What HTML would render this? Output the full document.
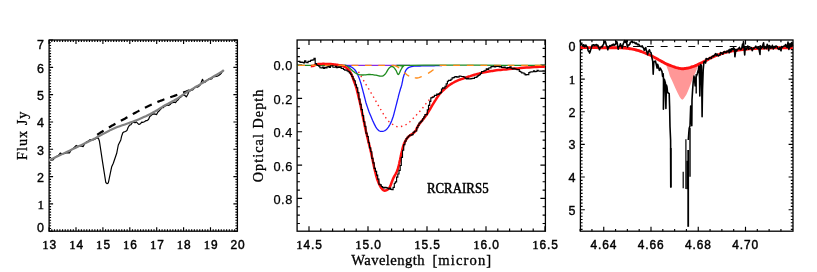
<!DOCTYPE html>
<html><head><meta charset="utf-8"><title>Spectra</title>
<style>
html,body{margin:0;padding:0;background:#fff;}
body{width:817px;height:272px;overflow:hidden;}
svg{display:block;}
text{fill:#000;}
svg{will-change:transform;transform:translateZ(0);}
.tl{font-family:"Liberation Sans",sans-serif;font-size:11.9px;stroke:#000;stroke-width:0.12px;letter-spacing:0.9px;}
.tl.b{stroke-width:0.45px;}
.tl.y{font-size:12.5px;stroke-width:0.36px;}
.tl.y .one{font-size:13.1px;}
.tl.m{font-size:12.8px;letter-spacing:0.55px;stroke-width:0.25px;}
.tl.m .one{font-size:14.4px;}
.one{font-family:"Liberation Serif",serif;font-size:12.8px;}
.sel{font-family:"Liberation Serif",serif;font-size:13.7px;stroke:#000;stroke-width:0.3px;}
.rc{font-family:"Liberation Serif",serif;font-size:13.8px;stroke:#000;stroke-width:0.5px;}
</style></head><body>
<svg width="817" height="272" viewBox="0 0 817 272">
<rect width="817" height="272" fill="#fff"/>
<rect x="49.1" y="40" width="188.3" height="191.2" fill="none" stroke="#000" stroke-width="1.3"/>
<path d="M49.10,231.2v-4M49.10,40v4M76.00,231.2v-4M76.00,40v4M102.90,231.2v-4M102.90,40v4M129.80,231.2v-4M129.80,40v4M156.70,231.2v-4M156.70,40v4M183.60,231.2v-4M183.60,40v4M210.50,231.2v-4M210.50,40v4M237.40,231.2v-4M237.40,40v4M51.79,231.2v-2M51.79,40v2M54.48,231.2v-2M54.48,40v2M57.17,231.2v-2M57.17,40v2M59.86,231.2v-2M59.86,40v2M62.55,231.2v-2M62.55,40v2M65.24,231.2v-2M65.24,40v2M67.93,231.2v-2M67.93,40v2M70.62,231.2v-2M70.62,40v2M73.31,231.2v-2M73.31,40v2M78.69,231.2v-2M78.69,40v2M81.38,231.2v-2M81.38,40v2M84.07,231.2v-2M84.07,40v2M86.76,231.2v-2M86.76,40v2M89.45,231.2v-2M89.45,40v2M92.14,231.2v-2M92.14,40v2M94.83,231.2v-2M94.83,40v2M97.52,231.2v-2M97.52,40v2M100.21,231.2v-2M100.21,40v2M105.59,231.2v-2M105.59,40v2M108.28,231.2v-2M108.28,40v2M110.97,231.2v-2M110.97,40v2M113.66,231.2v-2M113.66,40v2M116.35,231.2v-2M116.35,40v2M119.04,231.2v-2M119.04,40v2M121.73,231.2v-2M121.73,40v2M124.42,231.2v-2M124.42,40v2M127.11,231.2v-2M127.11,40v2M132.49,231.2v-2M132.49,40v2M135.18,231.2v-2M135.18,40v2M137.87,231.2v-2M137.87,40v2M140.56,231.2v-2M140.56,40v2M143.25,231.2v-2M143.25,40v2M145.94,231.2v-2M145.94,40v2M148.63,231.2v-2M148.63,40v2M151.32,231.2v-2M151.32,40v2M154.01,231.2v-2M154.01,40v2M159.39,231.2v-2M159.39,40v2M162.08,231.2v-2M162.08,40v2M164.77,231.2v-2M164.77,40v2M167.46,231.2v-2M167.46,40v2M170.15,231.2v-2M170.15,40v2M172.84,231.2v-2M172.84,40v2M175.53,231.2v-2M175.53,40v2M178.22,231.2v-2M178.22,40v2M180.91,231.2v-2M180.91,40v2M186.29,231.2v-2M186.29,40v2M188.98,231.2v-2M188.98,40v2M191.67,231.2v-2M191.67,40v2M194.36,231.2v-2M194.36,40v2M197.05,231.2v-2M197.05,40v2M199.74,231.2v-2M199.74,40v2M202.43,231.2v-2M202.43,40v2M205.12,231.2v-2M205.12,40v2M207.81,231.2v-2M207.81,40v2M213.19,231.2v-2M213.19,40v2M215.88,231.2v-2M215.88,40v2M218.57,231.2v-2M218.57,40v2M221.26,231.2v-2M221.26,40v2M223.95,231.2v-2M223.95,40v2M226.64,231.2v-2M226.64,40v2M229.33,231.2v-2M229.33,40v2M232.02,231.2v-2M232.02,40v2M234.71,231.2v-2M234.71,40v2M49.1,231.20h4M237.4,231.20h-4M49.1,203.89h4M237.4,203.89h-4M49.1,176.58h4M237.4,176.58h-4M49.1,149.27h4M237.4,149.27h-4M49.1,121.96h4M237.4,121.96h-4M49.1,94.65h4M237.4,94.65h-4M49.1,67.34h4M237.4,67.34h-4M49.1,40.03h4M237.4,40.03h-4M49.1,228.47h2M237.4,228.47h-2M49.1,225.74h2M237.4,225.74h-2M49.1,223.01h2M237.4,223.01h-2M49.1,220.28h2M237.4,220.28h-2M49.1,217.54h2M237.4,217.54h-2M49.1,214.81h2M237.4,214.81h-2M49.1,212.08h2M237.4,212.08h-2M49.1,209.35h2M237.4,209.35h-2M49.1,206.62h2M237.4,206.62h-2M49.1,201.16h2M237.4,201.16h-2M49.1,198.43h2M237.4,198.43h-2M49.1,195.70h2M237.4,195.70h-2M49.1,192.97h2M237.4,192.97h-2M49.1,190.23h2M237.4,190.23h-2M49.1,187.50h2M237.4,187.50h-2M49.1,184.77h2M237.4,184.77h-2M49.1,182.04h2M237.4,182.04h-2M49.1,179.31h2M237.4,179.31h-2M49.1,173.85h2M237.4,173.85h-2M49.1,171.12h2M237.4,171.12h-2M49.1,168.39h2M237.4,168.39h-2M49.1,165.66h2M237.4,165.66h-2M49.1,162.93h2M237.4,162.93h-2M49.1,160.19h2M237.4,160.19h-2M49.1,157.46h2M237.4,157.46h-2M49.1,154.73h2M237.4,154.73h-2M49.1,152.00h2M237.4,152.00h-2M49.1,146.54h2M237.4,146.54h-2M49.1,143.81h2M237.4,143.81h-2M49.1,141.08h2M237.4,141.08h-2M49.1,138.35h2M237.4,138.35h-2M49.1,135.62h2M237.4,135.62h-2M49.1,132.88h2M237.4,132.88h-2M49.1,130.15h2M237.4,130.15h-2M49.1,127.42h2M237.4,127.42h-2M49.1,124.69h2M237.4,124.69h-2M49.1,119.23h2M237.4,119.23h-2M49.1,116.50h2M237.4,116.50h-2M49.1,113.77h2M237.4,113.77h-2M49.1,111.04h2M237.4,111.04h-2M49.1,108.30h2M237.4,108.30h-2M49.1,105.57h2M237.4,105.57h-2M49.1,102.84h2M237.4,102.84h-2M49.1,100.11h2M237.4,100.11h-2M49.1,97.38h2M237.4,97.38h-2M49.1,91.92h2M237.4,91.92h-2M49.1,89.19h2M237.4,89.19h-2M49.1,86.46h2M237.4,86.46h-2M49.1,83.73h2M237.4,83.73h-2M49.1,81.00h2M237.4,81.00h-2M49.1,78.26h2M237.4,78.26h-2M49.1,75.53h2M237.4,75.53h-2M49.1,72.80h2M237.4,72.80h-2M49.1,70.07h2M237.4,70.07h-2M49.1,64.61h2M237.4,64.61h-2M49.1,61.88h2M237.4,61.88h-2M49.1,59.15h2M237.4,59.15h-2M49.1,56.42h2M237.4,56.42h-2M49.1,53.69h2M237.4,53.69h-2M49.1,50.95h2M237.4,50.95h-2M49.1,48.22h2M237.4,48.22h-2M49.1,45.49h2M237.4,45.49h-2M49.1,42.76h2M237.4,42.76h-2" stroke="#000" stroke-width="1.15" fill="none"/>
<path d="M49.3,160.6 L51.0,160.2 L53.0,159.8 L54.5,158.0 L56.0,156.7 L58.5,155.3 L60.4,153.0 L62.0,153.9 L64.0,153.7 L66.0,152.9 L68.0,152.6 L69.5,153.0 L71.0,150.3 L73.0,148.6 L75.0,146.8 L76.2,145.4 L78.0,146.4 L80.0,146.1 L82.0,146.1 L83.2,146.6 L84.5,143.9 L86.0,142.3 L87.5,141.4 L89.0,140.5 L90.3,139.5 L91.5,139.7 L93.0,139.8 L94.5,139.5 L96.5,138.1 L98.3,138.0 L99.4,141.0 L102.5,161.7 L105.8,182.5 L107.0,183.6 L108.3,183.0 L111.7,166.7 L113.3,163.3 L116.7,153.3 L118.3,145.0 L120.8,140.0 L121.5,136.6 L122.8,132.7 L124.2,131.8 L125.5,131.5 L126.9,130.6 L128.2,127.3 L129.6,125.1 L130.9,124.7 L132.3,122.7 L133.6,122.1 L135.0,122.8 L136.3,121.9 L137.7,123.4 L139.0,124.5 L140.4,123.8 L141.7,122.2 L143.1,122.3 L144.4,121.7 L145.8,120.7 L147.1,120.6 L148.5,119.6 L149.8,116.4 L151.2,115.4 L152.5,114.2 L153.9,113.9 L155.2,114.2 L156.6,114.6 L157.9,112.0 L159.3,110.7 L160.6,109.3 L162.0,107.7 L163.3,107.6 L164.7,106.1 L166.0,105.6 L167.4,105.0 L168.7,105.4 L170.1,104.6 L171.4,102.9 L172.8,102.6 L174.1,102.2 L175.5,102.6 L176.8,100.9 L178.2,99.7 L179.5,97.9 L180.9,97.1 L182.2,95.6 L183.6,94.9 L184.9,95.5 L186.3,96.9 L187.6,94.7 L189.0,91.6 L190.3,90.8 L191.7,90.2 L193.0,89.6 L194.4,88.2 L195.7,86.7 L197.1,87.2 L198.4,86.6 L199.8,85.6 L201.1,82.8 L202.5,79.3 L203.8,82.5 L205.2,82.2 L206.5,80.9 L207.9,79.8 L209.2,78.8 L210.6,79.3 L211.9,78.8 L213.3,76.5 L214.6,76.7 L216.0,76.4 L217.3,76.2 L218.7,75.5 L220.0,74.6 L221.4,73.1 L222.7,70.4 L223.5,70.4" stroke="#000" stroke-width="1.2" fill="none" stroke-linejoin="round"/>
<path d="M97.3,134.7 L97.4,134.6 L97.5,134.6 L97.6,134.5 L97.8,134.4 L98.0,134.3 L98.4,134.0 L98.9,133.7 L99.7,133.2 L100.7,132.5 L102.0,131.7 L103.5,130.8 L105.1,129.8 L106.8,128.8 L108.5,127.7 L110.2,126.7 L111.7,125.8 L113.2,125.0 L114.6,124.2 L116.1,123.4 L117.5,122.6 L118.9,121.9 L120.4,121.1 L121.8,120.3 L123.3,119.5 L124.8,118.7 L126.3,117.8 L127.8,117.0 L129.3,116.1 L130.8,115.2 L132.4,114.4 L133.9,113.5 L135.4,112.7 L136.9,111.9 L138.4,111.1 L139.9,110.3 L141.4,109.5 L142.9,108.7 L144.4,108.0 L146.0,107.2 L147.5,106.5 L149.0,105.8 L150.6,105.1 L152.1,104.4 L153.7,103.7 L155.2,103.0 L156.8,102.3 L158.4,101.6 L160.0,101.0 L161.6,100.4 L163.3,99.7 L165.0,99.1 L166.7,98.5 L168.3,97.9 L170.0,97.4 L171.7,96.8 L173.3,96.2 L175.0,95.6 L176.7,95.0 L178.4,94.4 L180.2,93.7 L181.8,93.1 L183.3,92.6 L184.7,92.1 L185.8,91.7 L186.7,91.4 L187.4,91.1 L188.0,90.9 L188.4,90.7 L188.8,90.6 L189.0,90.5 L189.3,90.4 L189.5,90.3" stroke="#000" stroke-width="2.2" fill="none" stroke-dasharray="7.5 6.2"/>
<path d="M49.2,160.3 L50.8,159.5 L52.9,158.5 L55.4,157.3 L58.2,156.0 L61.2,154.6 L64.2,153.1 L67.2,151.7 L70.0,150.4 L72.8,149.1 L75.7,147.7 L78.7,146.3 L81.6,144.9 L84.5,143.5 L87.2,142.2 L89.6,141.0 L91.7,140.0 L93.3,139.2 L94.6,138.6 L95.5,138.1 L96.3,137.6 L97.0,137.2 L97.8,136.8 L98.7,136.3 L100.0,135.6 L101.5,134.8 L103.2,133.9 L104.9,133.0 L106.8,132.0 L108.7,131.0 L110.7,129.9 L112.8,129.0 L115.0,128.0 L117.3,127.1 L119.7,126.2 L122.3,125.3 L124.9,124.4 L127.5,123.5 L130.1,122.6 L132.6,121.7 L135.0,120.8 L137.3,119.9 L139.5,119.0 L141.7,118.0 L143.8,117.1 L145.8,116.2 L147.8,115.2 L149.8,114.3 L151.7,113.3 L153.5,112.3 L155.3,111.3 L157.0,110.3 L158.7,109.2 L160.3,108.2 L161.9,107.2 L163.4,106.2 L165.0,105.3 L166.6,104.4 L168.1,103.6 L169.7,102.8 L171.2,102.0 L172.6,101.2 L174.1,100.5 L175.4,99.7 L176.7,99.0 L177.8,98.3 L178.8,97.7 L179.6,97.0 L180.4,96.4 L181.3,95.8 L182.3,95.1 L183.5,94.3 L185.0,93.3 L186.8,92.2 L188.8,91.0 L191.1,89.7 L193.4,88.3 L195.9,86.8 L198.4,85.4 L200.9,83.9 L203.3,82.5 L205.9,81.0 L208.6,79.4 L211.6,77.7 L214.4,76.0 L217.2,74.4 L219.7,72.9 L221.7,71.7 L223.3,70.8" stroke="#808080" stroke-width="2.15" fill="none" stroke-linecap="round"/>
<text x="44.9" y="231.6" class="tl b y" text-anchor="end">0</text>
<text x="44.9" y="209.1" class="tl b y" text-anchor="end"><tspan class="one">1</tspan></text>
<text x="44.9" y="181.8" class="tl b y" text-anchor="end">2</text>
<text x="44.9" y="154.5" class="tl b y" text-anchor="end">3</text>
<text x="44.9" y="127.2" class="tl b y" text-anchor="end">4</text>
<text x="44.9" y="99.9" class="tl b y" text-anchor="end">5</text>
<text x="44.9" y="72.5" class="tl b y" text-anchor="end">6</text>
<text x="44.9" y="49.3" class="tl b y" text-anchor="end">7</text>
<text x="49.7" y="249.1" class="tl b" text-anchor="middle"><tspan class="one">1</tspan>3</text>
<text x="76.6" y="249.1" class="tl b" text-anchor="middle"><tspan class="one">1</tspan>4</text>
<text x="103.5" y="249.1" class="tl b" text-anchor="middle"><tspan class="one">1</tspan>5</text>
<text x="130.4" y="249.1" class="tl b" text-anchor="middle"><tspan class="one">1</tspan>6</text>
<text x="157.3" y="249.1" class="tl b" text-anchor="middle"><tspan class="one">1</tspan>7</text>
<text x="184.2" y="249.1" class="tl b" text-anchor="middle"><tspan class="one">1</tspan>8</text>
<text x="211.1" y="249.1" class="tl b" text-anchor="middle"><tspan class="one">1</tspan>9</text>
<text x="238.0" y="249.1" class="tl b" text-anchor="middle">20</text>
<text transform="translate(26.5,160) rotate(-90) scale(1.04,1)" class="sel" textLength="46.6" lengthAdjust="spacing">Flux Jy</text>
<rect x="297.1" y="40" width="248.29999999999995" height="191.2" fill="none" stroke="#000" stroke-width="1.3"/>
<path d="M309.00,231.2v-5M309.00,40v5M368.00,231.2v-5M368.00,40v5M427.00,231.2v-5M427.00,40v5M486.00,231.2v-5M486.00,40v5M545.00,231.2v-5M545.00,40v5M320.80,231.2v-2.8M320.80,40v2.8M332.60,231.2v-2.8M332.60,40v2.8M344.40,231.2v-2.8M344.40,40v2.8M356.20,231.2v-2.8M356.20,40v2.8M379.80,231.2v-2.8M379.80,40v2.8M391.60,231.2v-2.8M391.60,40v2.8M403.40,231.2v-2.8M403.40,40v2.8M415.20,231.2v-2.8M415.20,40v2.8M438.80,231.2v-2.8M438.80,40v2.8M450.60,231.2v-2.8M450.60,40v2.8M462.40,231.2v-2.8M462.40,40v2.8M474.20,231.2v-2.8M474.20,40v2.8M497.80,231.2v-2.8M497.80,40v2.8M509.60,231.2v-2.8M509.60,40v2.8M521.40,231.2v-2.8M521.40,40v2.8M533.20,231.2v-2.8M533.20,40v2.8M297.1,65.00h5M545.4,65.00h-5M297.1,98.36h5M545.4,98.36h-5M297.1,131.72h5M545.4,131.72h-5M297.1,165.08h5M545.4,165.08h-5M297.1,198.44h5M545.4,198.44h-5M297.1,48.32h2.8M545.4,48.32h-2.8M297.1,56.66h2.8M545.4,56.66h-2.8M297.1,73.34h2.8M545.4,73.34h-2.8M297.1,81.68h2.8M545.4,81.68h-2.8M297.1,90.02h2.8M545.4,90.02h-2.8M297.1,106.70h2.8M545.4,106.70h-2.8M297.1,115.04h2.8M545.4,115.04h-2.8M297.1,123.38h2.8M545.4,123.38h-2.8M297.1,140.06h2.8M545.4,140.06h-2.8M297.1,148.40h2.8M545.4,148.40h-2.8M297.1,156.74h2.8M545.4,156.74h-2.8M297.1,173.42h2.8M545.4,173.42h-2.8M297.1,181.76h2.8M545.4,181.76h-2.8M297.1,190.10h2.8M545.4,190.10h-2.8M297.1,206.78h2.8M545.4,206.78h-2.8M297.1,215.12h2.8M545.4,215.12h-2.8M297.1,223.46h2.8M545.4,223.46h-2.8" stroke="#000" stroke-width="1.15" fill="none"/>
<path d="M338,65.3H410" stroke="#8a2be2" stroke-width="1.25"/>
<path d="M344.0,65.3 L344.7,65.4 L345.6,65.5 L346.7,65.6 L347.9,65.8 L349.0,66.1 L350.0,66.4 L350.9,66.8 L351.8,67.2 L352.6,67.8 L353.4,68.4 L354.2,69.1 L355.0,70.0 L355.8,71.1 L356.5,72.3 L357.2,73.7 L357.9,75.2 L358.6,76.7 L359.2,78.3 L359.8,79.9 L360.3,81.6 L360.9,83.3 L361.4,85.1 L361.9,87.1 L362.5,89.2 L363.1,91.6 L363.8,94.2 L364.5,97.0 L365.2,99.7 L365.9,102.5 L366.7,105.0 L367.5,107.4 L368.3,109.7 L369.1,112.0 L370.0,114.2 L370.9,116.3 L371.7,118.3 L372.5,120.2 L373.4,122.1 L374.2,123.9 L375.1,125.6 L375.9,127.1 L376.7,128.3 L377.5,129.3 L378.2,130.0 L378.9,130.6 L379.6,131.0 L380.4,131.3 L381.2,131.4 L382.1,131.4 L383.0,131.3 L383.9,131.0 L384.9,130.6 L385.8,130.0 L386.7,129.2 L387.6,128.2 L388.4,127.1 L389.3,125.7 L390.1,124.3 L390.9,122.6 L391.7,120.8 L392.4,118.8 L393.2,116.5 L393.9,114.1 L394.5,111.6 L395.2,109.1 L395.8,106.7 L396.4,104.4 L397.0,102.0 L397.6,99.6 L398.2,97.4 L398.7,95.2 L399.2,93.3 L399.7,91.6 L400.1,90.2 L400.5,88.8 L401.0,87.6 L401.3,86.3 L401.7,85.0 L402.0,83.6 L402.3,82.2 L402.6,80.8 L402.8,79.4 L403.1,78.0 L403.5,76.7 L403.9,75.3 L404.4,74.0 L404.9,72.6 L405.4,71.3 L406.0,70.2 L406.7,69.2 L407.4,68.4 L408.1,67.9 L408.9,67.4 L409.7,67.1 L410.7,66.8 L411.7,66.5 L412.8,66.3 L414.1,66.2 L415.4,66.1 L416.8,66.1 L418.4,66.0 L420.0,66.0 L421.8,65.9 L423.8,65.9 L425.9,65.9 L428.0,65.9 L430.1,65.8 L432.0,65.8 L433.9,65.8 L435.9,65.7 L437.8,65.7 L439.5,65.7 L440.9,65.6 L442.0,65.6" stroke="#1a1aff" stroke-width="1.3" fill="none"/>
<path d="M297.5,65.3 L302.5,65.3 L309.9,65.3 L318.3,65.3 L326.9,65.3 L334.5,65.3 L340.0,65.3 L343.2,65.3 L344.9,65.3 L345.6,65.3 L345.8,65.3 L345.9,65.5 L346.5,65.8 L347.4,66.3 L348.3,66.9 L349.2,67.7 L350.0,68.5 L350.9,69.3 L351.7,70.0 L352.5,70.7 L353.4,71.4 L354.2,72.0 L355.0,72.7 L355.9,73.2 L356.7,73.7 L357.5,74.1 L358.2,74.4 L359.0,74.6 L359.8,74.8 L360.7,74.9 L361.7,75.0 L362.9,75.0 L364.3,74.9 L365.7,74.8 L367.2,74.6 L368.7,74.5 L370.0,74.5 L371.3,74.6 L372.5,74.7 L373.7,74.9 L374.9,75.1 L376.0,75.2 L377.0,75.4 L377.9,75.6 L378.8,75.8 L379.6,76.0 L380.3,76.1 L381.0,76.2 L381.7,76.2 L382.3,76.1 L382.9,75.9 L383.4,75.6 L383.9,75.3 L384.4,74.8 L385.0,74.2 L385.7,73.4 L386.4,72.3 L387.1,71.1 L387.8,69.9 L388.5,68.8 L389.2,68.0 L389.8,67.4 L390.4,67.0 L390.9,66.7 L391.4,66.5 L392.0,66.5 L392.5,66.6 L393.1,66.9 L393.6,67.3 L394.2,67.9 L394.8,68.6 L395.3,69.3 L395.8,70.0 L396.3,70.8 L396.7,71.8 L397.1,72.7 L397.5,73.6 L397.9,74.3 L398.3,74.5 L398.7,74.3 L399.1,73.6 L399.6,72.8 L400.0,71.8 L400.4,70.8 L400.8,70.0 L401.2,69.3 L401.6,68.6 L401.9,67.9 L402.3,67.3 L402.8,66.8 L403.3,66.3 L402.4,66.0 L399.8,65.7 L397.2,65.6 L396.5,65.5 L399.5,65.4 L408.0,65.3 L424.8,65.2 L449.1,65.2 L477.0,65.2 L504.9,65.3 L529.0,65.3 L545.5,65.3" stroke="#1e8a1e" stroke-width="1.3" fill="none"/>
<path d="M310.8,66.2 L311.1,66.2 L311.5,66.1 L312.0,66.1 L312.5,66.0 L313.0,65.9 L313.5,65.8 L314.0,65.6 L314.4,65.4 L314.9,65.1 L315.4,64.8 L315.9,64.6 L316.5,64.4 L317.1,64.3 L317.8,64.1 L318.6,64.1 L319.3,64.0 L320.1,63.9 L321.0,63.9 L321.9,63.9 L322.9,63.8 L323.9,63.8 L324.9,63.9 L326.0,63.9 L327.0,63.9 L328.0,63.9 L329.0,64.0 L330.0,64.0 L331.0,64.1 L332.0,64.2 L333.0,64.3 L334.0,64.4 L335.0,64.5 L336.0,64.7 L337.0,64.8 L338.0,65.0 L339.0,65.2 L339.9,65.4 L340.9,65.5 L341.8,65.6 L342.7,65.8 L343.6,66.1 L344.5,66.6 L345.4,67.2 L346.4,67.8 L347.3,68.6 L348.3,69.5 L349.2,70.5 L350.0,71.7 L350.8,73.1 L351.6,74.8 L352.3,76.5 L353.0,78.4 L353.6,80.1 L354.2,81.7 L354.7,83.0 L355.1,84.0 L355.4,84.9 L355.8,86.0 L356.2,87.4 L356.7,89.2 L357.3,91.6 L358.0,94.4 L358.7,97.5 L359.5,100.7 L360.3,104.1 L361.0,107.5 L361.7,111.0 L362.5,114.6 L363.2,118.3 L364.0,122.1 L364.7,125.7 L365.5,129.2 L366.2,132.5 L367.0,135.6 L367.7,138.6 L368.5,141.7 L369.2,144.8 L370.0,148.0 L370.8,151.5 L371.6,155.3 L372.4,159.1 L373.2,162.8 L373.9,166.2 L374.6,169.2 L375.2,171.6 L375.7,173.7 L376.1,175.5 L376.6,177.0 L377.0,178.5 L377.5,180.0 L378.1,181.5 L378.6,182.9 L379.2,184.2 L379.8,185.4 L380.4,186.5 L381.0,187.5 L381.5,188.3 L382.1,189.0 L382.6,189.6 L383.1,190.0 L383.7,190.4 L384.2,190.6 L384.8,190.7 L385.3,190.6 L385.9,190.5 L386.5,190.2 L387.0,189.9 L387.5,189.6 L388.0,189.3 L388.4,189.0 L388.8,188.6 L389.1,188.1 L389.5,187.5 L390.0,186.7 L390.5,185.6 L391.0,184.3 L391.5,182.8 L392.1,181.3 L392.7,179.8 L393.3,178.3 L394.0,176.9 L394.7,175.6 L395.5,174.3 L396.2,172.9 L396.9,171.5 L397.5,170.0 L398.0,168.4 L398.5,166.7 L398.9,165.0 L399.3,163.2 L399.6,161.6 L400.0,160.0 L400.3,158.6 L400.6,157.2 L400.9,155.9 L401.1,154.6 L401.4,153.4 L401.7,152.0 L402.1,150.6 L402.4,149.1 L402.8,147.5 L403.2,146.1 L403.7,144.6 L404.2,143.3 L404.8,142.1 L405.4,141.0 L406.0,139.9 L406.7,138.9 L407.4,137.9 L408.3,136.9 L409.3,136.0 L410.5,135.1 L411.7,134.3 L412.9,133.5 L414.1,132.6 L415.0,131.7 L415.7,130.8 L416.2,129.9 L416.5,129.0 L416.9,128.0 L417.5,126.9 L418.3,125.6 L419.4,124.0 L420.8,122.3 L422.3,120.3 L423.8,118.4 L425.3,116.4 L426.7,114.5 L427.9,112.7 L429.0,110.8 L430.1,109.0 L431.2,107.2 L432.2,105.4 L433.3,103.6 L434.4,101.8 L435.5,100.1 L436.6,98.3 L437.8,96.6 L438.9,95.0 L440.0,93.6 L441.1,92.3 L442.3,91.1 L443.5,90.0 L444.6,89.0 L445.7,88.1 L446.7,87.2 L447.6,86.4 L448.4,85.8 L449.2,85.2 L450.0,84.7 L450.8,84.1 L451.7,83.6 L452.7,83.0 L453.7,82.5 L454.7,81.9 L455.8,81.4 L456.9,80.9 L458.0,80.4 L459.1,79.9 L460.2,79.5 L461.4,79.1 L462.6,78.7 L463.8,78.3 L465.0,77.9 L466.3,77.5 L467.6,77.0 L468.9,76.5 L470.2,76.1 L471.6,75.6 L473.0,75.2 L474.4,74.8 L475.9,74.4 L477.3,74.0 L478.8,73.6 L480.3,73.2 L481.7,72.9 L483.1,72.6 L484.5,72.3 L485.9,72.0 L487.2,71.8 L488.6,71.5 L490.0,71.3 L491.3,71.1 L492.5,70.9 L493.6,70.7 L494.9,70.5 L496.4,70.3 L498.3,70.1 L500.6,69.9 L503.2,69.6 L506.1,69.4 L509.1,69.1 L512.1,68.8 L515.0,68.6 L517.8,68.4 L520.7,68.1 L523.6,67.8 L526.4,67.6 L529.1,67.4 L531.7,67.2 L534.3,67.0 L536.9,66.9 L539.4,66.8 L541.7,66.7 L543.6,66.7 L545.0,66.6" stroke="#ff1010" stroke-width="2.5" fill="none" stroke-linejoin="round"/>
<path d="M298.3,65.3H391" stroke="#ff8c1a" stroke-width="1.35" fill="none" stroke-dasharray="6.7 6.63"/>
<path d="M391.6,65.3 L392.1,65.3 L392.9,65.4 L393.7,65.5 L394.5,65.6 L395.2,65.8 L395.8,66.0 L396.4,66.3 L397.0,66.6 L397.6,66.9 L398.3,67.3 L398.8,67.6 L399.2,67.8" stroke="#ff8c1a" stroke-width="1.35" fill="none"/>
<path d="M404.2,72.5 L404.7,72.9 L405.4,73.5 L406.1,74.1 L406.8,74.7 L407.5,75.2 L408.2,75.6 L408.8,76.0 L409.2,76.3" stroke="#ff8c1a" stroke-width="1.35" fill="none"/>
<path d="M414.8,77.9 L415.4,77.9 L416.2,78.0 L417.1,78.0 L418.0,77.9 L419.0,77.6 L420.1,77.2 L421.0,76.8 L421.7,76.5" stroke="#ff8c1a" stroke-width="1.35" fill="none"/>
<path d="M428.0,73.4 L428.5,73.1 L429.2,72.6 L430.0,72.1 L430.8,71.6 L431.5,71.1 L432.3,70.5 L433.0,70.0 L433.5,69.6" stroke="#ff8c1a" stroke-width="1.35" fill="none"/>
<path d="M439.6,65.3H545.4" stroke="#ff8c1a" stroke-width="1.35" fill="none" stroke-dasharray="6.8 6.8"/>
<path d="M358.5,71.8 L358.7,72.2 L359.1,72.8 L359.5,73.5 L359.9,74.3 L360.4,75.1 L360.8,75.8 L361.2,76.5 L361.6,77.2 L362.0,77.9 L362.5,78.6 L362.9,79.3 L363.3,80.0 L363.7,80.7 L364.1,81.4 L364.6,82.1 L365.0,82.8 L365.4,83.5 L365.8,84.2 L366.2,84.8 L366.5,85.4 L366.9,86.0 L367.3,86.6 L367.7,87.4 L368.3,88.3 L369.0,89.4 L369.7,90.7 L370.5,92.0 L371.4,93.5 L372.3,95.1 L373.3,96.7 L374.3,98.4 L375.4,100.3 L376.5,102.3 L377.6,104.3 L378.8,106.3 L380.0,108.3 L381.2,110.3 L382.4,112.4 L383.7,114.5 L385.0,116.5 L386.2,118.4 L387.5,120.0 L388.8,121.4 L390.1,122.6 L391.4,123.6 L392.7,124.4 L393.9,125.2 L395.0,125.8 L396.0,126.3 L396.8,126.6 L397.6,126.8 L398.3,126.8 L399.1,126.8 L400.0,126.7 L401.0,126.5 L402.1,126.2 L403.2,125.9 L404.4,125.4 L405.6,124.9 L406.7,124.2 L407.8,123.5 L408.8,122.6 L409.9,121.7 L411.0,120.6 L412.1,119.5 L413.3,118.3 L414.6,117.0 L416.0,115.5 L417.5,113.9 L419.0,112.3 L420.4,110.7 L421.7,109.2 L422.9,107.7 L424.1,106.2 L425.2,104.7 L426.3,103.3 L427.3,102.0 L428.3,100.8 L429.3,99.7 L430.3,98.8 L431.3,97.9 L432.2,97.1 L433.0,96.5 L433.5,96.0" stroke="#ff2020" stroke-width="1.4" fill="none" stroke-dasharray="1.4 3.4"/>
<path d="M297.5,61.5 L298.7,61.5 L298.7,61.3 L299.9,61.3 L299.9,62.5 L301.0,62.5 L301.0,62.1 L302.2,62.1 L302.2,62.3 L303.4,62.3 L303.4,62.9 L304.6,62.9 L304.6,60.7 L305.8,60.7 L305.8,62.2 L306.9,62.2 L306.9,62.6 L308.1,62.6 L308.1,61.4 L309.3,61.4 L309.3,61.4 L310.5,61.4 L310.5,60.3 L311.7,60.3 L311.7,60.1 L312.8,60.1 L312.8,59.8 L314.0,59.8 L314.0,58.4 L315.2,58.4 L315.2,63.6 L316.4,63.6 L316.4,65.0 L317.6,65.0 L317.6,65.5 L318.7,65.5 L318.7,66.1 L319.9,66.1 L319.9,67.7 L321.1,67.7 L321.1,67.8 L322.3,67.8 L322.3,67.0 L323.5,67.0 L323.5,68.3 L324.6,68.3 L324.6,67.3 L325.8,67.3 L325.8,67.9 L327.0,67.9 L327.0,66.8 L328.2,66.8 L328.2,66.2 L329.4,66.2 L329.4,67.3 L330.5,67.3 L330.5,65.9 L331.7,65.9 L331.7,65.9 L332.9,65.9 L332.9,67.2 L334.1,67.2 L334.1,67.2 L335.3,67.2 L335.3,66.4 L336.4,66.4 L336.4,67.6 L337.6,67.6 L337.6,66.9 L338.8,66.9 L338.8,67.3 L340.0,67.3 L340.0,66.7 L341.2,66.7 L341.2,68.3 L342.3,68.3 L342.3,68.4 L343.5,68.4 L343.5,69.5 L344.7,69.5 L344.7,70.2 L345.9,70.2 L345.9,70.0 L347.1,70.0 L347.1,71.0 L348.2,71.0 L348.2,71.7 L349.4,71.7 L349.4,72.9 L350.6,72.9 L350.6,74.2 L351.8,74.2 L351.8,76.5 L353.0,76.5 L353.0,79.0 L354.1,79.0 L354.1,80.7 L355.3,80.7 L355.3,84.8 L356.5,84.8 L356.5,87.7 L357.7,87.7 L357.7,92.6 L358.9,92.6 L358.9,99.1 L360.0,99.1 L360.0,104.2 L361.2,104.2 L361.2,109.6 L362.4,109.6 L362.4,115.6 L363.6,115.6 L363.6,121.7 L364.8,121.7 L364.8,126.3 L365.9,126.3 L365.9,133.1 L367.1,133.1 L367.1,136.5 L368.3,136.5 L368.3,142.7 L369.5,142.7 L369.5,147.9 L370.7,147.9 L370.7,151.7 L371.8,151.7 L371.8,158.3 L373.0,158.3 L373.0,162.8 L374.2,162.8 L374.2,168.4 L375.4,168.4 L375.4,171.4 L376.6,171.4 L376.6,175.1 L377.7,175.1 L377.7,179.1 L378.9,179.1 L378.9,184.2 L380.1,184.2 L380.1,184.9 L381.3,184.9 L381.3,186.5 L382.5,186.5 L382.5,187.4 L383.6,187.4 L383.6,187.9 L384.8,187.9 L384.8,187.3 L386.0,187.3 L386.0,187.6 L387.2,187.6 L387.2,188.2 L388.4,188.2 L388.4,188.9 L389.5,188.9 L389.5,188.0 L390.7,188.0 L390.7,189.4 L391.9,189.4 L391.9,189.7 L393.1,189.7 L393.1,187.3 L394.3,187.3 L394.3,183.2 L395.4,183.2 L395.4,181.8 L396.6,181.8 L396.6,177.1 L397.8,177.1 L397.8,174.0 L399.0,174.0 L399.0,170.3 L400.2,170.3 L400.2,165.5 L401.3,165.5 L401.3,157.4 L402.5,157.4 L402.5,150.2 L403.7,150.2 L403.7,144.6 L404.9,144.6 L404.9,141.1 L406.1,141.1 L406.1,138.6 L407.2,138.6 L407.2,137.2 L408.4,137.2 L408.4,136.0 L409.6,136.0 L409.6,135.1 L410.8,135.1 L410.8,135.1 L412.0,135.1 L412.0,134.6 L413.1,134.6 L413.1,132.3 L414.3,132.3 L414.3,131.2 L415.5,131.2 L415.5,131.0 L416.7,131.0 L416.7,127.6 L417.9,127.6 L417.9,125.4 L419.0,125.4 L419.0,123.1 L420.2,123.1 L420.2,121.8 L421.4,121.8 L421.4,120.8 L422.6,120.8 L422.6,118.7 L423.8,118.7 L423.8,116.8 L424.9,116.8 L424.9,114.6 L426.1,114.6 L426.1,114.6 L427.3,114.6 L427.3,109.7 L428.5,109.7 L428.5,105.4 L429.7,105.4 L429.7,101.4 L430.8,101.4 L430.8,97.8 L432.0,97.8 L432.0,97.5 L433.2,97.5 L433.2,96.7 L434.4,96.7 L434.4,95.2 L435.6,95.2 L435.6,95.3 L436.7,95.3 L436.7,94.0 L437.9,94.0 L437.9,94.3 L439.1,94.3 L439.1,93.5 L440.3,93.5 L440.3,92.6 L441.5,92.6 L441.5,89.0 L442.6,89.0 L442.6,87.8 L443.8,87.8 L443.8,88.2 L445.0,88.2 L445.0,86.2 L446.2,86.2 L446.2,83.9 L447.4,83.9 L447.4,81.2 L448.5,81.2 L448.5,80.4 L449.7,80.4 L449.7,80.3 L450.9,80.3 L450.9,79.2 L452.1,79.2 L452.1,77.9 L453.3,77.9 L453.3,77.6 L454.4,77.6 L454.4,76.9 L455.6,76.9 L455.6,76.6 L456.8,76.6 L456.8,77.2 L458.0,77.2 L458.0,76.9 L459.2,76.9 L459.2,76.1 L460.3,76.1 L460.3,76.2 L461.5,76.2 L461.5,76.5 L462.7,76.5 L462.7,76.5 L463.9,76.5 L463.9,77.0 L465.1,77.0 L465.1,78.2 L466.2,78.2 L466.2,78.8 L467.4,78.8 L467.4,78.4 L468.6,78.4 L468.6,79.0 L469.8,79.0 L469.8,78.9 L471.0,78.9 L471.0,78.6 L472.1,78.6 L472.1,78.4 L473.3,78.4 L473.3,78.3 L474.5,78.3 L474.5,77.4 L475.7,77.4 L475.7,77.5 L476.9,77.5 L476.9,76.3 L478.0,76.3 L478.0,75.5 L479.2,75.5 L479.2,74.7 L480.4,74.7 L480.4,73.4 L481.6,73.4 L481.6,71.5 L482.8,71.5 L482.8,71.5 L483.9,71.5 L483.9,70.7 L485.1,70.7 L485.1,70.2 L486.3,70.2 L486.3,68.9 L487.5,68.9 L487.5,69.4 L488.7,69.4 L488.7,68.0 L489.8,68.0 L489.8,67.8 L491.0,67.8 L491.0,66.6 L492.2,66.6 L492.2,66.6 L493.4,66.6 L493.4,66.2 L494.6,66.2 L494.6,66.9 L495.7,66.9 L495.7,66.2 L496.9,66.2 L496.9,66.3 L498.1,66.3 L498.1,66.3 L499.3,66.3 L499.3,66.9 L500.5,66.9 L500.5,66.5 L501.6,66.5 L501.6,67.4 L502.8,67.4 L502.8,67.4 L504.0,67.4 L504.0,67.0 L505.2,67.0 L505.2,67.7 L506.4,67.7 L506.4,68.1 L507.5,68.1 L507.5,67.6 L508.7,67.6 L508.7,67.6 L509.9,67.6 L509.9,66.9 L511.1,66.9 L511.1,68.2 L512.3,68.2 L512.3,68.9 L513.4,68.9 L513.4,68.3 L514.6,68.3 L514.6,68.8 L515.8,68.8 L515.8,69.2 L517.0,69.2 L517.0,69.7 L518.2,69.7 L518.2,69.5 L519.3,69.5 L519.3,71.4 L520.5,71.4 L520.5,72.0 L521.7,72.0 L521.7,72.8 L522.9,72.8 L522.9,73.0 L524.1,73.0 L524.1,73.9 L525.2,73.9 L525.2,74.8 L526.4,74.8 L526.4,74.5 L527.6,74.5 L527.6,74.6 L528.8,74.6 L528.8,72.6 L530.0,72.6 L530.0,72.0 L531.1,72.0 L531.1,71.8 L532.3,71.8 L532.3,71.7 L533.5,71.7 L533.5,70.9 L534.7,70.9 L534.7,71.7 L535.9,71.7 L535.9,71.5 L537.0,71.5 L537.0,70.2 L538.2,70.2 L538.2,71.0 L539.4,71.0 L539.4,71.1 L540.6,71.1 L540.6,71.1 L541.8,71.1 L541.8,71.1 L542.9,71.1 L542.9,70.9 L544.1,70.9 L544.1,71.1 L545.0,71.1" stroke="#000" stroke-width="1.15" fill="none" stroke-linejoin="miter"/>
<text x="292.9" y="70.4" class="tl m" text-anchor="end">0.0</text>
<text x="292.9" y="103.8" class="tl m" text-anchor="end">0.2</text>
<text x="292.9" y="137.1" class="tl m" text-anchor="end">0.4</text>
<text x="292.9" y="170.5" class="tl m" text-anchor="end">0.6</text>
<text x="292.9" y="203.8" class="tl m" text-anchor="end">0.8</text>
<text x="309.5" y="249.1" class="tl b" text-anchor="middle"><tspan class="one">1</tspan>4.5</text>
<text x="368.5" y="249.1" class="tl b" text-anchor="middle"><tspan class="one">1</tspan>5.0</text>
<text x="427.5" y="249.1" class="tl b" text-anchor="middle"><tspan class="one">1</tspan>5.5</text>
<text x="486.5" y="249.1" class="tl b" text-anchor="middle"><tspan class="one">1</tspan>6.0</text>
<text x="545.5" y="249.1" class="tl b" text-anchor="middle"><tspan class="one">1</tspan>6.5</text>
<text transform="translate(263,182.2) rotate(-90) scale(1.04,1)" class="sel" textLength="89.1" lengthAdjust="spacing">Optical Depth</text>
<text transform="translate(351.2,264.5) scale(1.07,1)" class="sel" textLength="68.5" lengthAdjust="spacing">Wavelength</text>
<text transform="translate(432.4,264.5) scale(1.07,1)" class="sel" textLength="55.0" lengthAdjust="spacing">[micron]</text>
<text transform="translate(426.9,193) scale(0.93,1)" class="rc" textLength="66.3" lengthAdjust="spacing">RCRAIRS5</text>
<rect x="580.4" y="40" width="212.60000000000002" height="191.2" fill="none" stroke="#000" stroke-width="1.3"/>
<path d="M603.75,231.2v-4.4M603.75,40v4.4M651.00,231.2v-4.4M651.00,40v4.4M698.25,231.2v-4.4M698.25,40v4.4M745.50,231.2v-4.4M745.50,40v4.4M580.13,231.2v-2.2M580.13,40v2.2M591.94,231.2v-2.2M591.94,40v2.2M615.56,231.2v-2.2M615.56,40v2.2M627.37,231.2v-2.2M627.37,40v2.2M639.19,231.2v-2.2M639.19,40v2.2M662.81,231.2v-2.2M662.81,40v2.2M674.63,231.2v-2.2M674.63,40v2.2M686.44,231.2v-2.2M686.44,40v2.2M710.06,231.2v-2.2M710.06,40v2.2M721.87,231.2v-2.2M721.87,40v2.2M733.69,231.2v-2.2M733.69,40v2.2M757.31,231.2v-2.2M757.31,40v2.2M769.13,231.2v-2.2M769.13,40v2.2M780.94,231.2v-2.2M780.94,40v2.2M580.4,46.40h4.4M793,46.40h-4.4M580.4,79.06h4.4M793,79.06h-4.4M580.4,111.72h4.4M793,111.72h-4.4M580.4,144.38h4.4M793,144.38h-4.4M580.4,177.04h4.4M793,177.04h-4.4M580.4,209.70h4.4M793,209.70h-4.4M580.4,43.13h2.2M793,43.13h-2.2M580.4,49.67h2.2M793,49.67h-2.2M580.4,52.93h2.2M793,52.93h-2.2M580.4,56.20h2.2M793,56.20h-2.2M580.4,59.46h2.2M793,59.46h-2.2M580.4,62.73h2.2M793,62.73h-2.2M580.4,66.00h2.2M793,66.00h-2.2M580.4,69.26h2.2M793,69.26h-2.2M580.4,72.53h2.2M793,72.53h-2.2M580.4,75.79h2.2M793,75.79h-2.2M580.4,82.33h2.2M793,82.33h-2.2M580.4,85.59h2.2M793,85.59h-2.2M580.4,88.86h2.2M793,88.86h-2.2M580.4,92.12h2.2M793,92.12h-2.2M580.4,95.39h2.2M793,95.39h-2.2M580.4,98.66h2.2M793,98.66h-2.2M580.4,101.92h2.2M793,101.92h-2.2M580.4,105.19h2.2M793,105.19h-2.2M580.4,108.45h2.2M793,108.45h-2.2M580.4,114.99h2.2M793,114.99h-2.2M580.4,118.25h2.2M793,118.25h-2.2M580.4,121.52h2.2M793,121.52h-2.2M580.4,124.78h2.2M793,124.78h-2.2M580.4,128.05h2.2M793,128.05h-2.2M580.4,131.32h2.2M793,131.32h-2.2M580.4,134.58h2.2M793,134.58h-2.2M580.4,137.85h2.2M793,137.85h-2.2M580.4,141.11h2.2M793,141.11h-2.2M580.4,147.65h2.2M793,147.65h-2.2M580.4,150.91h2.2M793,150.91h-2.2M580.4,154.18h2.2M793,154.18h-2.2M580.4,157.44h2.2M793,157.44h-2.2M580.4,160.71h2.2M793,160.71h-2.2M580.4,163.98h2.2M793,163.98h-2.2M580.4,167.24h2.2M793,167.24h-2.2M580.4,170.51h2.2M793,170.51h-2.2M580.4,173.77h2.2M793,173.77h-2.2M580.4,180.31h2.2M793,180.31h-2.2M580.4,183.57h2.2M793,183.57h-2.2M580.4,186.84h2.2M793,186.84h-2.2M580.4,190.10h2.2M793,190.10h-2.2M580.4,193.37h2.2M793,193.37h-2.2M580.4,196.64h2.2M793,196.64h-2.2M580.4,199.90h2.2M793,199.90h-2.2M580.4,203.17h2.2M793,203.17h-2.2M580.4,206.43h2.2M793,206.43h-2.2M580.4,212.97h2.2M793,212.97h-2.2M580.4,216.23h2.2M793,216.23h-2.2M580.4,219.50h2.2M793,219.50h-2.2M580.4,222.76h2.2M793,222.76h-2.2M580.4,226.03h2.2M793,226.03h-2.2M580.4,229.30h2.2M793,229.30h-2.2" stroke="#000" stroke-width="1.15" fill="none"/>
<path d="M580.4,46.5H793" stroke="#000" stroke-width="1.1" stroke-dasharray="6.9 6.9" stroke-dashoffset="2.5"/>
<path d="M665.6,63.6 L667.0,67.5 L668.7,72.0 L669.8,76.0 L672.0,80.6 L675.3,88.1 L677.5,92.8 L679.7,96.9 L681.2,98.9 L682.4,99.7 L683.6,98.8 L686.3,94.7 L688.0,91.0 L689.6,87.0 L691.3,82.6 L692.9,78.2 L695.7,72.0 L697.0,68.5 L698.1,65.5 L697.3,64.9 L696.3,65.3 L695.4,65.7 L694.4,66.1 L693.5,66.4 L692.5,66.7 L691.5,67.0 L690.6,67.3 L689.6,67.6 L688.7,67.8 L687.8,68.1 L686.9,68.2 L686.0,68.4 L685.0,68.5 L684.0,68.7 L683.0,68.7 L681.9,68.7 L680.8,68.6 L679.7,68.4 L678.6,68.2 L677.5,67.9 L676.4,67.6 L675.4,67.3 L674.2,66.9 L673.0,66.5 L671.6,66.0 L670.0,65.4 L668.5,64.8 L667.0,64.2 L665.7,63.6Z" fill="#ff9797" stroke="none"/>
<path d="M580.5,47.5 L582.4,47.5 L585.1,47.5 L588.3,47.6 L591.7,47.6 L595.6,47.6 L600.1,47.7 L604.5,47.7 L608.3,47.7 L611.3,47.7 L613.8,47.7 L615.9,47.8 L618.0,47.8 L620.0,47.9 L621.8,47.9 L623.5,48.0 L625.0,48.1 L626.4,48.2 L627.6,48.4 L628.8,48.5 L630.0,48.7 L631.2,48.9 L632.5,49.1 L633.8,49.4 L635.0,49.7 L636.2,50.0 L637.5,50.3 L638.8,50.7 L640.0,51.1 L641.2,51.5 L642.4,52.0 L643.7,52.5 L645.0,53.0 L646.5,53.6 L648.0,54.2 L649.5,54.8 L651.0,55.5 L652.3,56.2 L653.5,56.9 L654.7,57.6 L656.0,58.3 L657.5,59.1 L659.0,60.0 L660.5,60.8 L662.0,61.6 L663.3,62.3 L664.5,63.0 L665.7,63.6 L667.0,64.2 L668.5,64.8 L670.0,65.4 L671.6,66.0 L673.0,66.5 L674.2,66.9 L675.4,67.3 L676.4,67.6 L677.5,67.9 L678.6,68.2 L679.7,68.4 L680.8,68.6 L681.9,68.7 L683.0,68.7 L684.0,68.7 L685.0,68.5 L686.0,68.4 L686.9,68.2 L687.8,68.1 L688.7,67.8 L689.6,67.6 L690.6,67.3 L691.5,67.0 L692.5,66.7 L693.5,66.4 L694.4,66.1 L695.4,65.7 L696.3,65.3 L697.3,64.9 L698.3,64.4 L699.3,63.9 L700.4,63.4 L701.5,62.8 L702.6,62.3 L703.7,61.7 L704.9,61.1 L706.2,60.5 L707.6,59.7 L709.2,58.8 L710.7,58.0 L712.2,57.2 L713.5,56.6 L714.6,56.2 L715.8,55.7 L717.2,55.2 L718.9,54.6 L720.8,53.9 L722.7,53.3 L724.5,52.7 L726.2,52.2 L727.9,51.9 L729.4,51.5 L731.0,51.2 L732.4,50.9 L733.8,50.7 L735.2,50.4 L736.7,50.2 L738.5,50.0 L740.6,49.7 L742.6,49.5 L744.3,49.3 L745.5,49.2 L746.4,49.1 L747.4,49.0 L749.0,48.9 L751.5,48.7 L754.6,48.5 L758.0,48.4 L761.2,48.2 L764.1,48.1 L766.9,48.0 L769.9,48.0 L773.4,47.9 L778.2,47.8 L783.8,47.7 L789.1,47.7 L792.7,47.6" stroke="#ff1010" stroke-width="2.9" fill="none" stroke-linejoin="round"/>
<path d="M580.8,43.2 L581.3,43.8 L581.8,44.5 L582.4,45.0 L583.0,46.2 L583.5,44.7 L584.0,45.0 L584.6,46.7 L585.2,46.5 L585.8,45.0 L586.4,46.0 L587.0,46.8 L587.6,47.5 L588.1,50.5 L588.6,51.5 L589.1,51.2 L589.6,53.1 L590.1,51.7 L590.6,50.0 L591.1,48.8 L591.6,47.0 L592.2,45.1 L592.8,45.5 L593.4,44.8 L594.0,44.8 L594.6,45.5 L595.2,45.2 L595.8,44.8 L596.4,44.6 L597.0,45.4 L597.5,45.0 L598.0,45.4 L598.5,47.5 L599.0,48.0 L599.5,49.8 L600.0,47.7 L600.6,47.6 L601.2,47.0 L601.8,46.4 L602.4,46.8 L603.0,45.0 L603.5,44.0 L604.0,42.6 L604.5,42.5 L605.0,41.0 L605.4,41.7 L605.8,43.0 L606.2,44.9 L606.6,45.6 L607.2,46.7 L607.8,49.8 L608.2,47.9 L608.6,47.0 L609.2,46.8 L609.8,45.6 L610.4,46.1 L611.0,45.4 L611.8,45.1 L612.5,45.2 L613.2,44.2 L614.0,45.4 L614.8,44.4 L615.5,44.6 L616.0,42.3 L616.6,41.5 L617.0,42.2 L617.4,44.0 L617.8,47.4 L618.2,49.2 L618.6,47.1 L619.0,46.5 L619.7,46.1 L620.4,43.7 L620.8,45.6 L621.2,45.5 L621.7,45.6 L622.1,48.1 L622.7,45.7 L623.2,44.0 L623.8,42.5 L624.3,41.0 L624.8,40.5 L625.4,42.5 L626.0,41.5 L626.5,40.8 L627.0,45.0 L627.6,47.0 L628.1,45.0 L628.6,45.0 L629.2,44.9 L629.8,44.3 L630.4,42.2 L631.0,42.0 L631.5,41.7 L632.0,41.0 L632.8,42.6 L633.5,42.2 L634.4,42.2 L635.3,43.7 L636.4,43.0 L637.5,44.8 L638.6,44.3 L639.7,45.9 L640.6,46.4 L641.5,46.6 L642.2,45.8 L643.0,47.6 L643.6,47.9 L644.2,50.3 L645.0,48.9 L645.8,47.6 L646.2,50.4 L646.7,51.0 L647.1,52.6 L647.5,54.7 L647.9,53.1 L648.3,52.0 L648.7,51.5 L649.1,50.3 L649.5,49.9 L650.0,51.6 L650.4,52.3 L650.8,52.5 L651.1,52.9 L651.4,55.0 L652.0,58.0 L652.7,61.0 L653.2,74.3 L653.8,62.1 L655.4,61.0 L656.3,64.5 L657.1,68.2 L657.6,64.3 L658.5,67.0 L659.3,70.4 L660.4,68.2 L661.2,70.0 L662.0,71.5 L662.6,76.5 L663.2,73.7 L663.5,80.0 L663.4,109.2 L664.3,79.3 L665.4,83.0 L665.9,108.5 L666.4,85.0 L667.0,87.0 L667.6,92.5 L669.2,93.6 L669.4,100.0 L669.6,106.0 L670.0,126.7 L670.6,140.0 L670.8,187.5" stroke="#000" stroke-width="1.6" fill="none" stroke-linejoin="round"/>
<path d="M683.2,171.7 L683.2,188.3" stroke="#000" stroke-width="1.2" fill="none"/>
<path d="M685.9,139.2 L685.9,189.0" stroke="#000" stroke-width="1.2" fill="none"/>
<path d="M687.2,160.8 L687.2,189.2" stroke="#000" stroke-width="1.7" fill="none"/>
<path d="M688.2,150.0 L688.2,226.8" stroke="#000" stroke-width="1.8" fill="none"/>
<path d="M690.0,128.0 L690.0,176.7" stroke="#000" stroke-width="1.4" fill="none"/>
<path d="M696.2,74.0 L696.2,93.6" stroke="#000" stroke-width="1.4" fill="none"/>
<path d="M670.8,148V187.5" stroke="#000" stroke-width="1.7" fill="none"/>
<path d="M688.3,140.0 L688.8,133.0 L689.2,128.3 L690.0,126.0 L690.7,106.0 L691.2,112.0 L691.8,125.8 L692.0,100.0 L692.6,90.0 L693.2,82.0 L694.0,76.0 L694.6,80.0 L695.2,86.0 L695.8,78.0 L697.3,73.7 L698.3,70.0 L699.0,66.0 L699.6,80.0 L699.8,96.0 L700.2,80.0 L700.6,64.5 L701.4,66.0 L701.8,90.0 L702.1,116.7 L702.5,90.0 L703.2,70.0 L703.9,62.1 L704.6,61.5 L705.6,63.0 L706.1,58.5 L706.8,58.9 L707.5,59.0 L708.2,59.3 L708.9,58.5 L709.8,57.6 L710.5,57.8 L711.3,58.3 L712.0,56.5 L712.8,56.1 L713.6,56.5 L714.3,55.2 L714.9,54.8 L715.5,53.7 L716.3,55.3 L716.9,54.0 L717.8,55.2 L718.4,55.9 L719.3,55.3 L720.0,55.1 L720.6,52.5 L721.1,53.0 L721.9,53.1 L722.8,54.2 L723.6,51.9 L724.6,51.5 L725.3,52.5 L726.2,52.5 L726.9,51.2 L727.7,51.7 L728.6,50.2 L729.2,52.8 L730.0,49.3 L730.9,51.5 L731.5,48.9 L732.3,48.8 L732.9,49.7 L733.5,47.8 L734.5,49.0 L734.9,56.8 L735.9,49.5 L736.7,50.9 L737.3,49.6 L737.9,49.1 L738.6,48.6 L739.4,47.3 L740.2,49.4 L740.8,49.5 L741.7,48.7 L742.6,44.0 L743.2,47.3 L743.5,41.5 L744.7,55.0 L745.2,47.7 L746.0,49.0 L746.4,49.4 L747.1,47.2 L747.8,46.0 L748.7,49.2 L749.7,48.0 L750.3,47.9 L750.8,48.5 L751.5,47.7 L752.2,50.6 L752.7,49.4 L753.6,48.1 L754.2,48.2 L754.9,47.5 L755.8,46.2 L756.6,47.5 L757.4,48.4 L758.1,47.0 L759.0,49.4 L760.0,54.4 L760.3,45.9 L761.3,48.3 L762.1,47.5 L762.5,46.0 L763.6,42.7 L764.1,48.6 L765.0,46.5 L765.6,47.5 L766.3,48.6 L767.2,44.4 L768.0,45.8 L768.7,50.6 L769.4,45.6 L770.3,46.4 L770.8,48.2 L771.8,47.2 L772.4,45.3 L773.2,48.9 L773.9,48.0 L774.4,46.6 L775.1,47.4 L775.9,46.0 L776.6,46.3 L777.2,46.9 L778.0,48.7 L779.0,49.5 L779.9,47.5 L781.0,50.8 L781.6,46.5 L782.2,47.4 L783.0,46.7 L783.9,46.1 L784.7,46.0 L785.7,44.5 L786.3,46.5 L787.2,47.5 L788.0,42.0 L788.9,49.4 L790.0,43.5 L790.5,46.6 L791.2,46.5 L791.8,42.5 L792.5,46.2 L792.6,46.5" stroke="#000" stroke-width="1.6" fill="none" stroke-linejoin="round"/>
<text x="576.3" y="51.4" class="tl b y" text-anchor="end">0</text>
<text x="576.3" y="84.1" class="tl b y" text-anchor="end"><tspan class="one">1</tspan></text>
<text x="576.3" y="116.7" class="tl b y" text-anchor="end">2</text>
<text x="576.3" y="149.4" class="tl b y" text-anchor="end">3</text>
<text x="576.3" y="182.0" class="tl b y" text-anchor="end">4</text>
<text x="576.3" y="214.7" class="tl b y" text-anchor="end">5</text>
<text x="603.9" y="249.1" class="tl b" text-anchor="middle">4.64</text>
<text x="651.1" y="249.1" class="tl b" text-anchor="middle">4.66</text>
<text x="698.4" y="249.1" class="tl b" text-anchor="middle">4.68</text>
<text x="745.6" y="249.1" class="tl b" text-anchor="middle">4.70</text>
</svg>
</body></html>
